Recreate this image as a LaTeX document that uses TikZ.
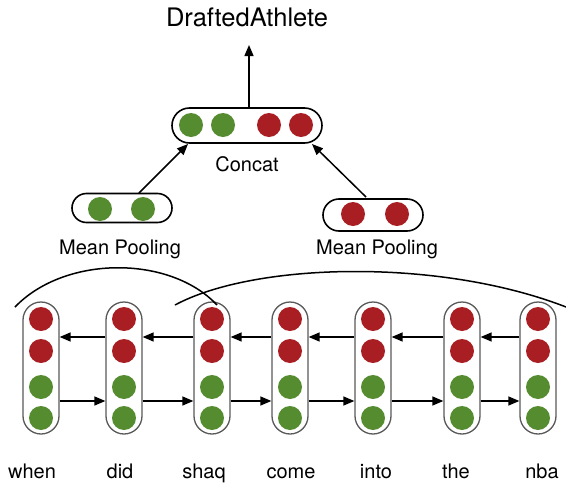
\documentclass[tikz,border=0pt]{standalone}
\usepackage{fontspec}
\setmainfont{TeX Gyre Heros}
\usetikzlibrary{arrows.meta}
\definecolor{dred}{HTML}{A81E23}
\definecolor{dgreen}{HTML}{548C2F}
\tikzset{
  colpill/.style={draw=black!65, line width=1.3pt, rounded corners=18pt, minimum width=36pt, minimum height=132pt, inner sep=0pt, fill=white},
  hpill/.style={draw=black, line width=1.6pt, rounded corners=#1, inner sep=0pt, fill=white},
  rdot/.style={circle, fill=dred, minimum size=24pt, inner sep=0pt},
  gdot/.style={circle, fill=dgreen, minimum size=24pt, inner sep=0pt},
  arr/.style={line width=1.5pt, -{Triangle[length=11pt,width=9pt]}},
  lbl/.style={font=\fontsize{20}{24}\selectfont, anchor=base, inner sep=0pt},
  arcline/.style={line width=1.5pt}
}
\begin{document}
\begin{tikzpicture}[x=1pt,y=-1pt]
\useasboundingbox (0,0) rectangle (566,485);
% columns
\foreach \i/\x/\w/\wx in {1/41/when/32, 2/124/did/120, 3/212/shaq/204, 4/290/come/291, 5/373/into/376, 6/462/the/456, 7/538/nba/542} {
  \node[colpill] (c\i) at (\x,368) {};
  \node[rdot] (r\i a) at (\x,319) {};
  \node[rdot] (r\i b) at (\x,351) {};
  \node[gdot] (g\i a) at (\x,387) {};
  \node[gdot] (g\i b) at (\x,418) {};
  \node[lbl] (w\i) at (\wx,478) {\w};
}
% forward arrows (green)
\foreach \a/\b in {1/2,2/3,3/4,4/5,5/6,6/7} {
  \draw[arr] ([yshift=-33pt]c\a.east) -- ([yshift=-33pt]c\b.west);
  \draw[arr] ([yshift=31pt]c\b.west) -- ([yshift=31pt]c\a.east);
}
% arcs
\draw[arcline] (15,307) .. controls (65,255) and (170,255) .. (217,305);
\draw[arcline] (175,305) .. controls (255,262) and (440,258) .. (566,307);
% pooling
\node[hpill=14.5pt, minimum width=100pt, minimum height=29pt] (pl) at (122,208) {};
\node[gdot] (pl1) at (100,209) {};
\node[gdot] (pl2) at (143,209) {};
\node[lbl] (pll) at (120,254) {Mean Pooling};
\node[hpill=16pt, minimum width=100pt, minimum height=32pt] (pr) at (373,215) {};
\node[rdot] (pr1) at (353,214) {};
\node[rdot] (pr2) at (397,214) {};
\node[lbl] (prl) at (377,254) {Mean Pooling};
% concat
\node[hpill=17.5pt, minimum width=150pt, minimum height=35pt] (cc) at (247,125.5) {};
\node[gdot] (cc1) at (191,125) {};
\node[gdot] (cc2) at (223,125) {};
\node[rdot] (cc3) at (269,125) {};
\node[rdot] (cc4) at (301,125) {};
\node[lbl] (ccl) at (247,171) {Concat};
% output
\node[font=\fontsize{25.5}{30}\selectfont, anchor=base, inner sep=0pt] (out) at (247,26) {DraftedAthlete};
\coordinate (outtip) at (249,45);
\draw[arr] (cc.north) ++(2,0) -- (outtip);
\draw[arr] (139,193) -- (188,144);
\draw[arr] (366,197) -- (312,144);
\end{tikzpicture}
\end{document}
